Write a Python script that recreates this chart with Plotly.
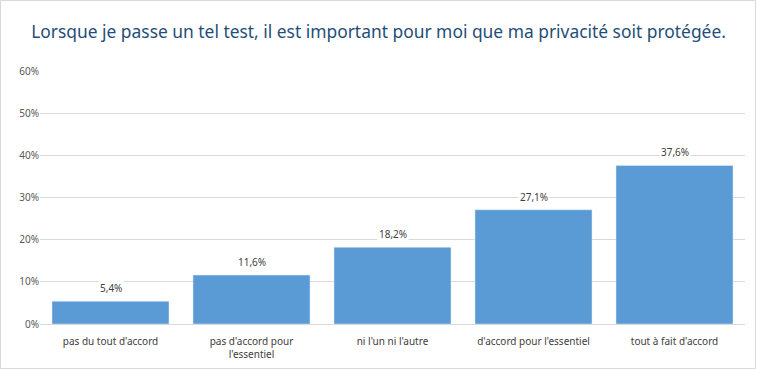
import plotly.graph_objects as go

categories = ["pas du tout d'accord", "pas d'accord pour<br>l'essentiel", "ni l'un ni l'autre",
              "d'accord pour l'essentiel", "tout à fait d'accord"]
values = [5.4, 11.6, 18.2, 27.1, 37.6]
tick_vals = [0, 10, 20, 30, 40, 50, 60]
tick_text = ["0%", "10%", "20%", "30%", "40%", "50%", "60%"]

W, H = 757, 370
ml, mr, mt, mb = 40, 12, 71, 46
pw, ph = W - ml - mr, H - mt - mb

font = "Noto Sans, Open Sans, sans-serif"

fig = go.Figure()
fig.add_trace(go.Bar(x=categories, y=values, marker_color="#5B9BD5", width=0.83,
                     hoverinfo="skip"))

for c, v in zip(categories, values):
    fig.add_annotation(x=c, y=v, text=f"{v:.1f}".replace(".", ",") + "%",
                       showarrow=False, yanchor="bottom", yshift=4,
                       bgcolor="white", borderpad=1,
                       font=dict(size=10, color="#404040", family=font))

fig.add_shape(type="rect", xref="paper", yref="paper",
              x0=-(ml - 0.5) / pw, x1=1 + (mr - 1.5) / pw,
              y0=-(mb - 1.5) / ph, y1=1 + (mt - 0.5) / ph,
              line=dict(color="#D9D9D9", width=1), layer="below")

fig.update_layout(
    width=W, height=H,
    margin=dict(l=ml, r=mr, t=mt, b=mb, autoexpand=False),
    paper_bgcolor="white", plot_bgcolor="white",
    title=dict(text="Lorsque je passe un tel test, il est important pour moi que ma privacité soit protégée.",
               x=0.5, xanchor="center", xref="container", y=1 - 32 / H, yanchor="middle",
               font=dict(size=17.4, color="#1F4E79", family=font)),
    showlegend=False,
    bargap=0.17,
    xaxis=dict(showgrid=False, showline=True, linecolor="#D9D9D9", linewidth=1,
               ticks="", ticklabelstandoff=8,
               tickfont=dict(size=10, color="#404040", family=font),
               automargin=False, fixedrange=True),
    yaxis=dict(range=[0, 60], tickvals=tick_vals, ticktext=tick_text,
               showgrid=True, gridcolor="#D9D9D9", gridwidth=1, zeroline=False,
               showline=False, ticks="", automargin=False,
               tickfont=dict(size=10, color="#595959", family=font),
               fixedrange=True),
)

fig.write_html("out.html", config={"displayModeBar": False},
               post_script="document.body.style.margin='0';document.body.style.overflow='hidden';")
